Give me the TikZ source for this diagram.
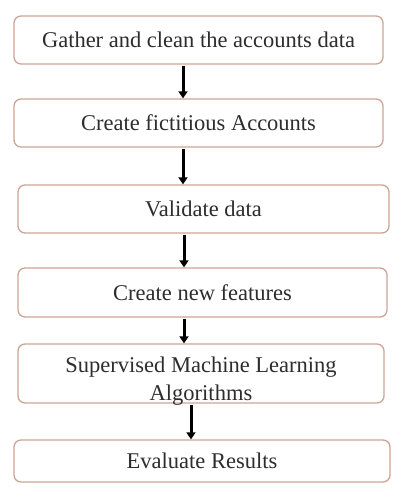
\documentclass[tikz,border=0pt]{standalone}
\usepackage{fontspec}
\setmainfont{Liberation Serif}
\usetikzlibrary{arrows.meta}
\definecolor{boxedge}{RGB}{205,165,150}
\definecolor{txt}{RGB}{45,45,45}
\begin{document}
\begin{tikzpicture}[x=1pt,y=-1pt,
  stepbox/.style={draw=boxedge,line width=1.3pt,rounded corners=7pt,fill=white,
    minimum height=#1,text=txt,font=\fontsize{22.5}{27}\selectfont,align=center,inner sep=0pt},
  flow/.style={line width=3pt,-{Triangle[length=7pt,width=9pt]},black,shorten <=1pt}]
\useasboundingbox[fill=white] (0,0) rectangle (409,487);
\node[stepbox=48pt,minimum width=369pt] (b1) at (198.5,40) {Gather and clean the accounts data};
\node[stepbox=48pt,minimum width=369pt] (b2) at (198.5,123) {Create fictitious Accounts};
\node[stepbox=48pt,minimum width=371pt] (b3) at (203.5,209) {Validate data};
\node[stepbox=49pt,minimum width=369pt] (b4) at (202.5,292.5) {Create new features};
\node[stepbox=59pt,minimum width=366pt] (b5) at (201,373.5) {};
\node[text=txt,font=\fontsize{22.5}{28}\selectfont,align=center,inner sep=0pt] (t5) at (201,381) {Supervised Machine Learning\\Algorithms};
\node[stepbox=42pt,minimum width=376pt] (b6) at (202,461) {Evaluate Results};
\coordinate (c1) at (183,0);
\coordinate (c2) at (184,0);
\coordinate (c3) at (191,0);
\draw[flow] (b1.south -| c1) -- (b2.north -| c1);
\draw[flow] (b2.south -| c1) -- (b3.north -| c1);
\draw[flow] (b3.south -| c2) -- (b4.north -| c2);
\draw[flow] (b4.south -| c2) -- (b5.north -| c2);
\draw[flow] (b5.south -| c3) -- (b6.north -| c3);
\end{tikzpicture}
\end{document}
